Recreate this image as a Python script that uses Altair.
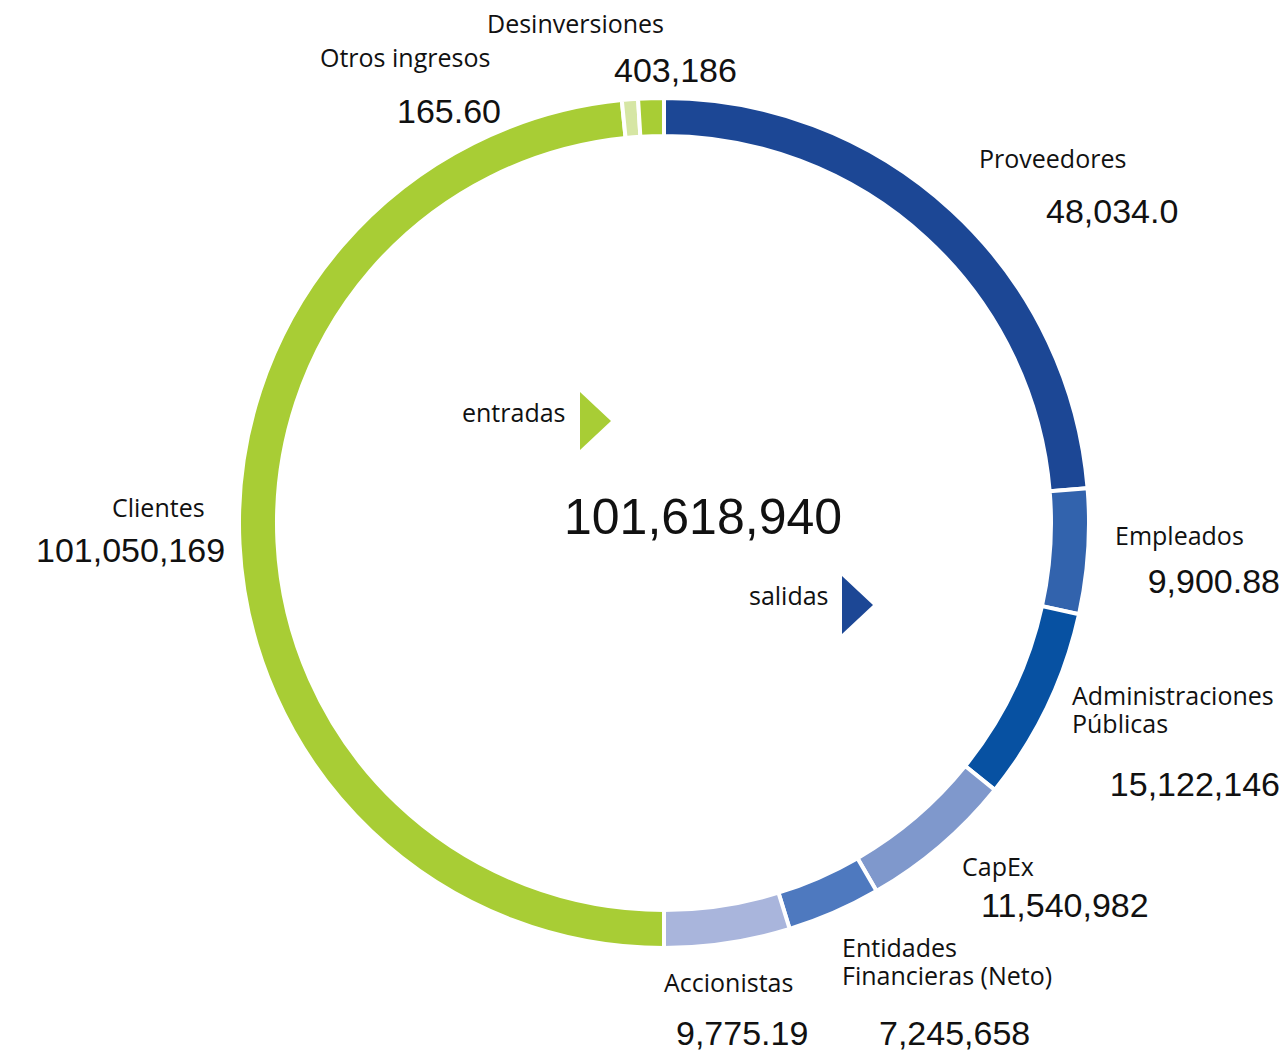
import altair as alt
import pandas as pd

# ---- data ----
segments = ["Proveedores", "Empleados", "Administraciones Públicas", "CapEx",
            "Entidades Financieras (Neto)", "Accionistas", "Clientes",
            "Otros ingresos", "Desinversiones"]
arc_degrees = [85.3, 17.1, 26.5, 21.1, 12.8, 17.2, 174.3, 2.2, 3.5]
seg_colors = ["#1c4795", "#3263ad", "#0751a2", "#7f98cc", "#4e79bf",
              "#a9b5dc", "#a8cd35", "#d6e6a4", "#a8cd35"]

label_lines = ["Desinversiones", "Otros ingresos", "Proveedores", "Empleados",
               "Administraciones", "Públicas", "CapEx", "Entidades",
               "Financieras (Neto)", "Accionistas", "Clientes", "entradas", "salidas"]
value_texts = ["403,186", "165.60", "48,034.0", "11,540,982", "7,245,658",
               "9,775.19", "101,050,169"]
value_texts_right = ["9,900.88", "15,122,146"]
total_text = "101,618,940"
arrow_colors = ["#a8cd35", "#1c4795"]

# ---- layout (page pixel positions: x, baseline y) ----
OFF = 8
label_pos = [(487, 33), (320, 67), (979, 168), (1115, 545), (1072, 705),
             (1072, 733), (962, 876), (842, 957), (842, 985), (664, 992),
             (112, 517), (462, 422), (749, 605)]
value_pos = [(614, 82), (397, 123), (1046, 223), (981, 917), (879, 1045),
             (676, 1045), (36, 562)]
value_pos_right = [(1280, 593), (1280, 796)]
total_pos = (564, 534)
arrow_pos = [(595.5, 421), (857.5, 605)]
CX, CY = 664 - OFF, 523 - OFF


def frame(texts, pos):
    return pd.DataFrame({"text": texts,
                         "x": [p[0] - OFF for p in pos],
                         "y": [p[1] - OFF for p in pos]})


seg_df = pd.DataFrame({"segment": segments, "deg": arc_degrees,
                       "color": seg_colors, "order": list(range(len(segments)))})
lab_df = frame(label_lines, label_pos)
val_df = frame(value_texts, value_pos)
valr_df = frame(value_texts_right, value_pos_right)
tot_df = frame([total_text], [total_pos])
arr_df = pd.DataFrame({"color": arrow_colors,
                       "x": [p[0] - OFF for p in arrow_pos],
                       "y": [p[1] - OFF for p in arrow_pos]})

donut = alt.Chart(seg_df).mark_arc(
    outerRadius=425, innerRadius=387, stroke="white", strokeWidth=4
).encode(
    theta=alt.Theta("deg:Q", stack=True),
    order=alt.Order("order:Q"),
    color=alt.Color("color:N", scale=None),
    x=alt.value(CX), y=alt.value(CY),
)


def text_layer(df, font, size, align="left"):
    return alt.Chart(df).mark_text(
        align=align, baseline="alphabetic", font=font, fontSize=size, color="#111111"
    ).encode(x=alt.X("x:Q", scale=None), y=alt.Y("y:Q", scale=None), text="text:N")


labels = text_layer(lab_df, "Open Sans", 25)
values = text_layer(val_df, "Liberation Sans", 34)
values_r = text_layer(valr_df, "Liberation Sans", 34, align="right")
total = text_layer(tot_df, "Liberation Sans", 50)

arrows = alt.Chart(arr_df).mark_point(
    shape="M -0.534 -1 L 0.534 0 L -0.534 1 Z", filled=True, size=3364,
    opacity=1, strokeWidth=0
).encode(x=alt.X("x:Q", scale=None), y=alt.Y("y:Q", scale=None),
         color=alt.Color("color:N", scale=None))

chart = alt.layer(donut, arrows, labels, values, values_r, total).properties(
    width=1271, height=1046, padding=0,
    autosize=alt.AutoSizeParams(type="none"),
    background="white",
).configure_view(stroke=None)

chart.save("out.html", embed_options={"renderer": "svg", "actions": False})
